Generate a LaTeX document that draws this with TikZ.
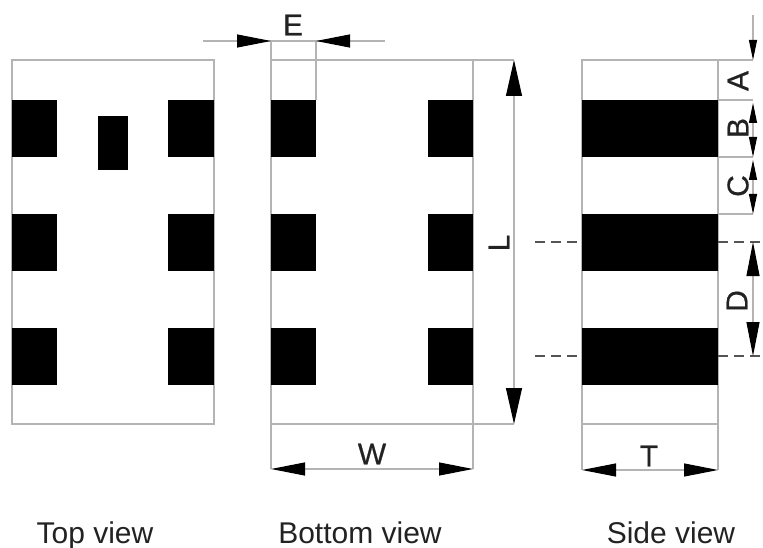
\documentclass[tikz,border=0pt]{standalone}
\usepackage{fontspec}
\setmainfont{Liberation Sans}
\newfontfamily\dimfont[FakeBold=0.6]{Liberation Sans}
\usetikzlibrary{arrows.meta}
\tikzset{
  x=1pt,y=-1pt,
  outline/.style={draw=linegray,line width=1.2pt},
  dimline/.style={draw=linegray,line width=1.1pt},
  dashline/.style={draw=dashgray,line width=2pt,dash pattern=on 10pt off 6pt},
  pad/.style={fill=black},
  bigtip/.tip={Triangle[length=34pt,width=13pt,color=black]},
  hugetip/.tip={Triangle[length=36pt,width=16pt,color=black]},
  smalltip/.tip={Triangle[length=20pt,width=8pt,color=black]},
  dimlabel/.style={font=\dimfont\fontsize{30}{32}\selectfont,text=textgray,inner sep=0pt},
  caption/.style={font=\fontsize{30}{32}\selectfont,text=textgray,inner sep=0pt,anchor=base},
}
\definecolor{linegray}{HTML}{B4B4B4}
\definecolor{dashgray}{HTML}{555555}
\definecolor{textgray}{HTML}{222222}
\begin{document}
\begin{tikzpicture}
\useasboundingbox (0,0) rectangle (763,548);
% outlines
\draw[outline] (12,60) rectangle (214,424);
\draw[outline] (271,60) rectangle (473,424);
\draw[outline] (582,60) rectangle (718,424);
% pads
\foreach \t/\b in {100/157,214/271,328/385}{
  \fill[pad] (12,\t) rectangle (57,\b);
  \fill[pad] (168,\t) rectangle (214,\b);
  \fill[pad] (271,\t) rectangle (316,\b);
  \fill[pad] (428,\t) rectangle (473,\b);
  \fill[pad] (582,\t) rectangle (718,\b);
}
\fill[pad] (98,116) rectangle (128,170);
% named points
\coordinate (eL) at (203,41);
\coordinate (eA) at (271,41);
\coordinate (eB) at (316,41);
\coordinate (eR) at (385,41);
\coordinate (eA0) at (271,60);
\coordinate (eB0) at (316,100);
\coordinate (lT0) at (473,60);
\coordinate (lB0) at (473,424);
\coordinate (lT) at (514,60);
\coordinate (lB) at (514,424);
\coordinate (wL0) at (271,424);
\coordinate (wR0) at (473,424);
\coordinate (wL) at (271,469);
\coordinate (wR) at (473,469);
\coordinate (tL0) at (582,424);
\coordinate (tR0) at (718,424);
\coordinate (tL) at (582,470);
\coordinate (tR) at (718,470);
\coordinate (aS) at (753,15);
\coordinate (y60) at (753,60);
\coordinate (y100) at (753,100);
\coordinate (y103) at (753,103);
\coordinate (y157) at (753,157);
\coordinate (y160) at (753,160);
\coordinate (y214) at (753,214);
\coordinate (e60) at (718,60);
\coordinate (e100) at (718,100);
\coordinate (e157) at (718,157);
\coordinate (e214) at (718,214);
\coordinate (dTL) at (535,242);
\coordinate (dTM) at (582,242);
\coordinate (dTN) at (718,242);
\coordinate (dTR) at (763,242);
\coordinate (dBL) at (535,356);
\coordinate (dBM) at (582,356);
\coordinate (dBN) at (718,356);
\coordinate (dBR) at (763,356);
\coordinate (dT) at (753,242);
\coordinate (dB) at (753,356);
% extension lines
\draw[dimline] (eA) -- (eA0);
\draw[dimline] (eB) -- (eB0);
\draw[dimline] (lT0) -- (lT);
\draw[dimline] (lB0) -- (lB);
\draw[dimline] (wL0) -- (wL);
\draw[dimline] (wR0) -- (wR);
\draw[dimline] (tL0) -- (tL);
\draw[dimline] (tR0) -- (tR);
\draw[dimline] (e60) -- (y60);
\draw[dimline] (e100) -- (y100);
\draw[dimline] (e157) -- (y157);
\draw[dimline] (e214) -- (y214);
% dashed
\draw[dashline] (dTL) -- (dTM);
\draw[dashline] (dTN) -- (dTR);
\draw[dashline] (dBL) -- (dBM);
\draw[dashline] (dBN) -- (dBR);
% dimension arrows
\draw[dimline] (eL) -- (eR);
\draw[dimline,-{bigtip}] (eL) -- (eA);
\draw[dimline,-{bigtip}] (eR) -- (eB);
\draw[dimline,{hugetip}-{hugetip}] (lT) -- (lB);
\draw[dimline,{bigtip}-{bigtip}] (wL) -- (wR);
\draw[dimline,{bigtip}-{bigtip}] (tL) -- (tR);
\draw[dimline,-{smalltip}] (aS) -- (y60);
\draw[dimline,{smalltip}-{smalltip}] (y103) -- (y157);
\draw[dimline,{smalltip}-{smalltip}] (y160) -- (y214);
\draw[dimline,{bigtip}-{bigtip}] (dT) -- (dB);
% labels
\node[dimlabel] (E) at (293,25) {E};
\node[dimlabel] (W) at (372,454) {W};
\node[dimlabel] (T) at (649,456) {T};
\node[dimlabel,rotate=90] (L) at (499,243) {L};
\node[dimlabel,rotate=90] (A) at (738,81) {A};
\node[dimlabel,rotate=90] (B) at (738,128) {B};
\node[dimlabel,rotate=90] (C) at (738,186) {C};
\node[dimlabel,rotate=90] (D) at (737,301) {D};
\node[caption] (top) at (95,543) {Top view};
\node[caption] (bot) at (360,543) {Bottom view};
\node[caption] (side) at (671,543) {Side view};
\end{tikzpicture}
\end{document}
